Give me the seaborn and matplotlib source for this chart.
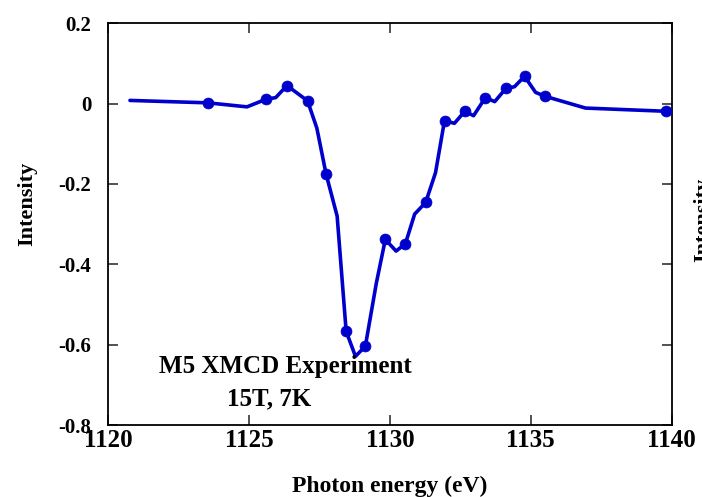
import matplotlib
matplotlib.use("Agg")
import matplotlib.pyplot as plt
import seaborn as sns
import numpy as np

# ---- data ----
energy = [1120.78, 1123.55, 1124.93, 1125.61, 1125.95, 1126.35, 1127.08, 1127.41,
          1127.74, 1128.13, 1128.45, 1128.78, 1129.13, 1129.52, 1129.84, 1130.22,
          1130.55, 1130.88, 1131.27, 1131.62, 1131.94, 1132.29, 1132.66, 1132.97,
          1133.39, 1133.72, 1134.12, 1134.42, 1134.78, 1135.17, 1135.52, 1136.94,
          1139.80]
intensity = [0.008, 0.002, -0.008, 0.011, 0.015, 0.045, 0.007, -0.061,
             -0.176, -0.280, -0.567, -0.629, -0.604, -0.447, -0.338, -0.367,
             -0.349, -0.275, -0.246, -0.172, -0.042, -0.049, -0.019, -0.030,
             0.015, 0.005, 0.038, 0.042, 0.068, 0.028, 0.018, -0.011,
             -0.019]
marker_idx = [1, 3, 5, 6, 8, 10, 12, 14, 16, 18, 20, 22, 24, 26, 28, 30, 32]

x_ticks = [1120, 1125, 1130, 1135, 1140]
x_ticklabels = ["1120", "1125", "1130", "1135", "1140"]
y_ticks = [0.2, 0, -0.2, -0.4, -0.6, -0.8]
y_ticklabels = ["0.2", "0", "-0.2", "-0.4", "-0.6", "-0.8"]

sns.set_theme(style="ticks")
plt.rcParams["font.family"] = ["Liberation Serif", "DejaVu Serif"]
plt.rcParams["font.weight"] = "bold"
plt.rcParams["text.color"] = "black"
plt.rcParams["axes.labelcolor"] = "black"
plt.rcParams["xtick.labelcolor"] = "black"
plt.rcParams["ytick.labelcolor"] = "black"

W, H = 702, 497
fig = plt.figure(figsize=(W / 100, H / 100), dpi=100)
ax = fig.add_axes([108 / W, 1 - 425 / H, (671.7 - 108) / W, (425 - 23.3) / H])

color = "#0000CC"
sns.lineplot(x=energy, y=intensity, sort=False, ax=ax, color=color, linewidth=2.6)
mx = [energy[i] for i in marker_idx]
my = [intensity[i] for i in marker_idx]
sns.scatterplot(x=mx, y=my, ax=ax, color=color, s=62, edgecolor=color, linewidth=0.5, zorder=3)

ax.set_xlim(1120, 1140)
ax.set_ylim(-0.8, 0.2)
ax.set_xticks(x_ticks)
ax.set_xticklabels(x_ticklabels, fontsize=18, fontweight="bold", color="black")
ax.set_yticks(y_ticks)
ax.set_yticklabels(y_ticklabels, fontsize=15, fontweight="bold", color="black")
ax.tick_params(axis="both", direction="in", length=7, width=1.2, color="#333333",
               top=True, right=True)
ax.tick_params(axis="x", pad=3)
ax.tick_params(axis="y", pad=12)
for s in ax.spines.values():
    s.set_linewidth(1.3)
    s.set_color("black")

ax.set_xlabel("Photon energy (eV)", fontsize=17, fontweight="bold", va="center", color="black")
ax.xaxis.set_label_coords(0.5, -0.152)
ax.set_ylabel("Intensity", fontsize=16, fontweight="bold", va="center", color="black")
ax.yaxis.set_label_coords(-0.144, 0.55)

ax.text(1126.3, -0.655, "M5 XMCD Experiment", fontsize=18, fontweight="bold",
        ha="center", va="center", color="black")
ax.text(1125.7, -0.735, "15T, 7K", fontsize=18, fontweight="bold",
        ha="center", va="center", color="black")

# clipped residual label at the right edge of the figure (as in the reference)
fig.text(693 / W, 1 - 220 / H, "Intensity", rotation=90, fontsize=16,
         fontweight="bold", ha="left", va="center", color="black")

fig.savefig("out.png", dpi=100)
